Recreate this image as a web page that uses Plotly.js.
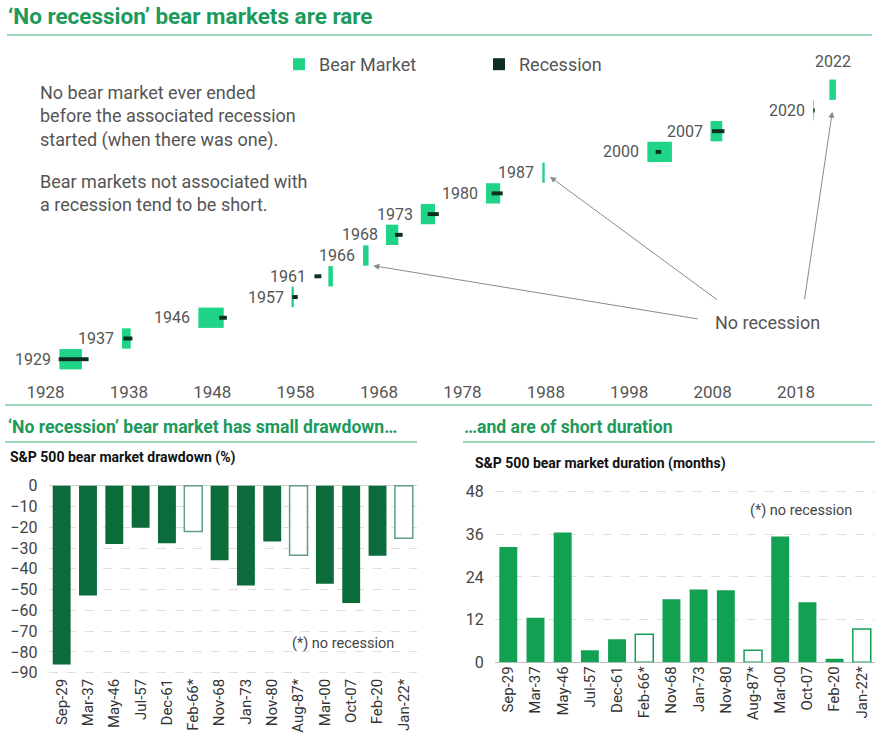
<!DOCTYPE html>
<html>
<head>
<meta charset="utf-8">
<script src="https://cdn.plot.ly/plotly-3.0.1.min.js"></script>
<style>
  html, body { margin: 0; padding: 0; background: #ffffff; }
  #chart { width: 882px; height: 736px; }
</style>
</head>
<body>
<div id="chart"></div>
<script>
// Bear markets since 1929: start (decimal year), duration (months), drawdown (%)
const rowLabels = ['1929', '1937', '1946', '1957', '1961', '1966', '1968', '1973', '1980', '1987', '2000', '2007', '2020', '2022'];
const categories = ['Sep-29', 'Mar-37', 'May-46', 'Jul-57', 'Dec-61', 'Feb-66*', 'Nov-68', 'Jan-73', 'Nov-80', 'Aug-87*', 'Mar-00', 'Oct-07', 'Feb-20', 'Jan-22*'];
const bearStart = [1929.67, 1937.17, 1946.33, 1957.5, 1961.92, 1966.08, 1968.83, 1973.0, 1980.83, 1987.58, 2000.17, 2007.75, 2020.08, 2022.0];
const durationMonths = [32.4, 12.5, 36.5, 3.4, 6.5, 7.9, 17.7, 20.5, 20.3, 3.4, 35.4, 16.9, 1.0, 9.4];
const drawdownPct = [-86.0, -52.8, -28.1, -20.2, -27.7, -22.1, -35.9, -48.0, -26.8, -33.5, -47.2, -56.5, -33.7, -25.3];
const noRecession = [false, false, false, false, false, true, false, false, false, true, false, false, false, true];

// Associated recessions (decimal years), null where there was none
const recessionStart = [1929.58, 1937.33, 1948.83, 1957.58, 1960.25, null, 1969.92, 1973.83, 1981.5, null, 2001.17, 2007.92, 2020.08, null];
const recessionEnd = [1933.17, 1938.42, 1949.75, 1958.25, 1961.08, null, 1970.83, 1975.17, 1982.83, null, 2001.83, 2009.42, 2020.25, null];

const timelineTicks = [1928, 1938, 1948, 1958, 1968, 1978, 1988, 1998, 2008, 2018];

const W = 882, H = 736;
const px = v => v / W;
const py = v => 1 - v / H;

const FONT = 'Roboto, "Open Sans", sans-serif';
const GREY = '#555555';
const TITLE_GREEN = '#1b9a5b';
const RULE_GREEN = '#9cd6b7';
const BEAR_GREEN = '#1fd486';
const REC_DARK = '#0f2e21';
const DARK_BAR = '#0b6b3b';
const MID_BAR = '#12a052';

const rows = rowLabels.map((_, i) => i);

// timeline traces
const bearTrace = {
  type: 'bar', orientation: 'h', name: 'Bear Market',
  y: rows, base: bearStart, x: durationMonths.map(m => m / 12),
  width: 0.98, marker: { color: BEAR_GREEN, line: { width: 0 } },
  xaxis: 'x', yaxis: 'y', hoverinfo: 'skip'
};
const recIdx = rows.filter(i => recessionStart[i] !== null);
const recessionTrace = {
  type: 'bar', orientation: 'h', name: 'Recession',
  y: recIdx, base: recIdx.map(i => recessionStart[i]),
  x: recIdx.map(i => recessionEnd[i] - recessionStart[i]),
  width: 0.19, marker: { color: REC_DARK, line: { width: 0 } },
  xaxis: 'x', yaxis: 'y', hoverinfo: 'skip'
};

// lower panels
const drawdownTrace = {
  type: 'bar', x: categories, y: drawdownPct, width: 0.68,
  marker: {
    color: noRecession.map(n => n ? '#ffffff' : DARK_BAR),
    line: { color: noRecession.map(n => n ? '#5f9f80' : DARK_BAR), width: noRecession.map(n => n ? 1.5 : 0) }
  },
  xaxis: 'x2', yaxis: 'y2', showlegend: false, hoverinfo: 'skip'
};
const durationTrace = {
  type: 'bar', x: categories, y: durationMonths, width: 0.66,
  marker: {
    color: noRecession.map(n => n ? '#ffffff' : MID_BAR),
    line: { color: MID_BAR, width: noRecession.map(n => n ? 1.5 : 0) }
  },
  xaxis: 'x3', yaxis: 'y3', showlegend: false, hoverinfo: 'skip'
};

// year labels beside each timeline row
const annotations = rows.map(i => {
  const left = recessionStart[i] !== null ? Math.min(bearStart[i], recessionStart[i]) : bearStart[i];
  const last = i === rows.length - 1;
  return last ? {
    xref: 'x', yref: 'y', x: bearStart[i] + durationMonths[i] / 24, y: i, yshift: 28,
    text: rowLabels[i], showarrow: false, xanchor: 'center', yanchor: 'middle',
    font: { family: FONT, size: 16, color: GREY }
  } : {
    xref: 'x', yref: 'y', x: left, y: i, xshift: -6,
    text: rowLabels[i], showarrow: false, xanchor: 'right', yanchor: 'middle',
    font: { family: FONT, size: 16, color: GREY }
  };
});

// pointers from the "No recession" note
const pointers = [
  { x: 1967.3, y: 4.51, ax: 2006.4, ay: 1.93 },
  { x: 1988.5, y: 8.8, ax: 2008.7, ay: 2.82 },
  { x: 2022.35, y: 11.94, ax: 2019.0, ay: 2.82 }
];
pointers.forEach(p => annotations.push({
  xref: 'x', yref: 'y', axref: 'x', ayref: 'y', x: p.x, y: p.y, ax: p.ax, ay: p.ay,
  text: '', showarrow: true, arrowhead: 2, arrowsize: 1.2, arrowwidth: 1, arrowcolor: '#8a8a8a'
}));

const paperText = (x, y, text, size, color, extra) => Object.assign({
  xref: 'paper', yref: 'paper', x: px(x), y: py(y), text: text, showarrow: false,
  xanchor: 'left', yanchor: 'middle', align: 'left',
  font: { family: FONT, size: size, color: color }
}, extra || {});

annotations.push(
  paperText(6, 16, '<b>‘No recession’ bear markets are rare</b>', 22.5, TITLE_GREEN),
  paperText(38, 116.5, 'No bear market ever ended<br>before the associated recession<br>started (when there was one).', 18, GREY),
  paperText(38, 193, 'Bear markets not associated with<br>a recession tend to be short.', 18, GREY),
  paperText(767, 323, 'No recession', 18, GREY, { xanchor: 'center' }),
  paperText(6, 427, '<b>‘No recession’ bear market has small drawdown…</b>', 17.6, TITLE_GREEN),
  paperText(462, 427, '<b>…and are of short duration</b>', 17.6, TITLE_GREEN),
  paperText(8, 457, '<b>S&P 500 bear market drawdown (%)</b>', 14, '#111111'),
  paperText(473, 463, '<b>S&P 500 bear market duration (months)</b>', 14, '#111111'),
  paperText(290, 643, '(*) no recession', 14.5, '#444444'),
  paperText(748, 510, '(*) no recession', 14.5, '#444444')
);

const rule = (x0, x1, y) => ({
  type: 'line', xref: 'paper', yref: 'paper', x0: px(x0), x1: px(x1), y0: py(y), y1: py(y),
  line: { color: RULE_GREEN, width: 2 }
});

const layout = {
  width: W, height: H,
  margin: { l: 0, r: 0, t: 0, b: 0 },
  paper_bgcolor: '#ffffff', plot_bgcolor: 'rgba(0,0,0,0)',
  barmode: 'overlay',
  font: { family: FONT, color: GREY },
  showlegend: true,
  legend: {
    orientation: 'h', x: px(279), y: py(46), xanchor: 'left', yanchor: 'top',
    font: { family: FONT, size: 18, color: GREY }, bgcolor: 'rgba(0,0,0,0)',
    entrywidth: 155, entrywidthmode: 'pixels', traceorder: 'normal'
  },
  xaxis: {
    domain: [0, 1], range: [1928 - 45.5 / 8.339, 1928 + 836.5 / 8.339],
    tickvals: timelineTicks, ticktext: timelineTicks.map(String),
    showgrid: false, zeroline: false, showline: false, ticks: '',
    tickfont: { family: FONT, size: 17, color: GREY }, fixedrange: true
  },
  yaxis: {
    domain: [py(380), py(45)], range: [-1.003, 15.157], visible: false, fixedrange: true
  },
  xaxis2: {
    anchor: 'y2', domain: [px(48.5), px(417)], type: 'category', tickangle: -90,
    showgrid: false, zeroline: false, showline: false, ticks: '',
    tickfont: { family: FONT, size: 15, color: '#333333' }, fixedrange: true
  },
  yaxis2: {
    anchor: 'x2', domain: [py(674.8), py(483.6)], range: [-91, 1],
    tickvals: [0, -10, -20, -30, -40, -50, -60, -70, -80, -90],
    showgrid: true, gridcolor: '#dedede', griddash: 'dash', gridwidth: 1,
    zeroline: true, zerolinecolor: '#cfcfcf', zerolinewidth: 1.5, showline: false,
    ticks: '', ticklabelstandoff: 10,
    tickfont: { family: FONT, size: 16, color: '#444444' }, fixedrange: true
  },
  xaxis3: {
    anchor: 'y3', domain: [px(494.7), px(875.4)], type: 'category', tickangle: -90,
    showgrid: false, zeroline: false, showline: false, ticks: '',
    tickfont: { family: FONT, size: 15, color: '#333333' }, fixedrange: true
  },
  yaxis3: {
    anchor: 'x3', domain: [py(662.3), py(488.1)], range: [0, 49],
    tickvals: [0, 12, 24, 36, 48],
    showgrid: true, gridcolor: '#dedede', griddash: 'dash', gridwidth: 1,
    zeroline: true, zerolinecolor: '#bdbdbd', zerolinewidth: 1.5, showline: false,
    ticks: '', ticklabelstandoff: 10,
    tickfont: { family: FONT, size: 16, color: '#444444' }, fixedrange: true
  },
  annotations: annotations,
  shapes: [
    rule(7, 872, 35),
    rule(5, 872, 405),
    rule(5, 417, 442),
    rule(463, 875, 442)
  ]
};

Plotly.newPlot('chart', [bearTrace, recessionTrace, drawdownTrace, durationTrace], layout,
  { staticPlot: true, displayModeBar: false });
</script>
</body>
</html>
